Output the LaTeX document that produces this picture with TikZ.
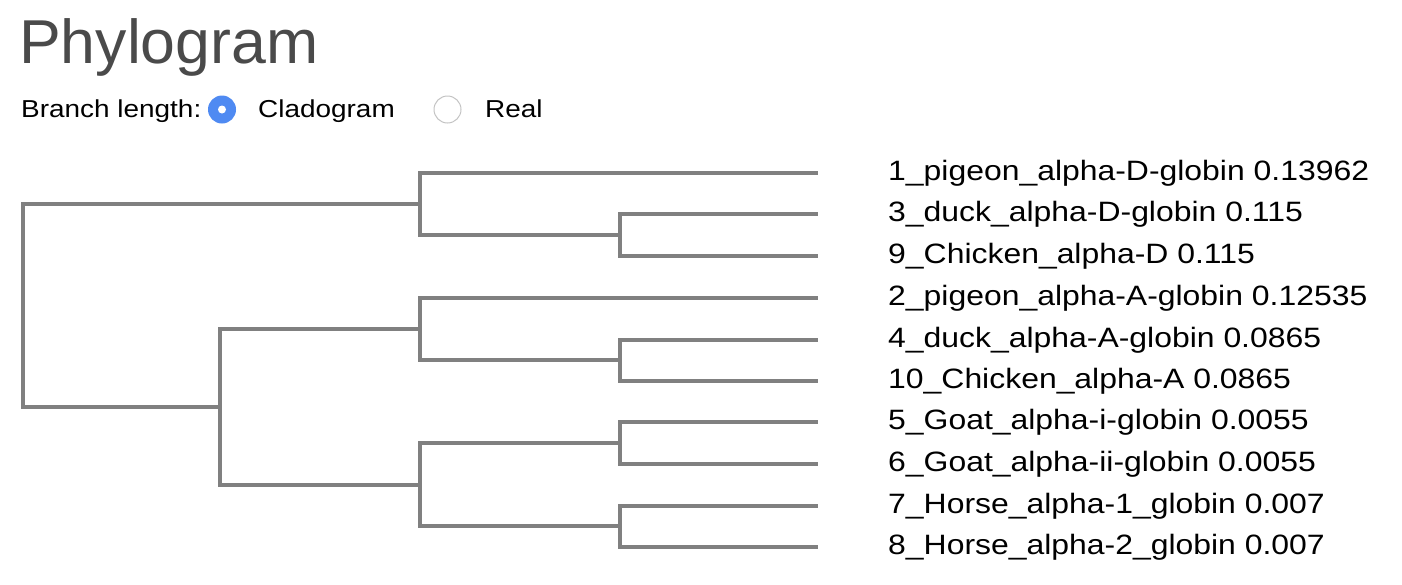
\documentclass[tikz,border=0pt]{standalone}
\usepackage{fontspec}
\setmainfont{Liberation Sans}
\newfontfamily\labelfont[FakeStretch=1.14]{Liberation Sans}
\newfontfamily\ctrlfont[FakeStretch=1.14]{Liberation Sans}
\newfontfamily\titlefont[FakeStretch=1.01]{Liberation Sans}
\definecolor{branch}{HTML}{808080}
\definecolor{titlegray}{HTML}{4A4A4A}
\definecolor{radioblue}{HTML}{4F8AF2}
\definecolor{radiogray}{HTML}{C4C4C4}
\begin{document}
\begin{tikzpicture}[x=1pt,y=-1pt,
  edge/.style={draw=branch,line width=4pt},
  leaflabel/.style={anchor=base west,inner sep=0pt,font=\labelfont\fontsize{28}{30}\selectfont,text=black},
  ctrl/.style={anchor=base west,inner sep=0pt,font=\ctrlfont\fontsize{24.5}{28}\selectfont,text=black}]
\useasboundingbox (0,0) rectangle (1402,584);
% title and controls
\node[anchor=base west,inner sep=0pt,font=\titlefont\fontsize{62}{70}\selectfont,text=titlegray] (title) at (19,63) {Phylogram};
\node[ctrl] (bl) at (21,117) {Branch length:};
\node[circle,fill=radioblue,minimum size=28pt,inner sep=0pt] (r1) at (222,109.5) {};
\node[circle,fill=white,minimum size=8pt,inner sep=0pt] (r1dot) at (r1.center) {};
\node[ctrl] (clado) at (258,117) {Cladogram};
\node[circle,draw=radiogray,line width=1pt,fill=white,minimum size=27pt,inner sep=0pt] (r2) at (447.5,109.5) {};
\node[ctrl] (real) at (485,117) {Real};
% internal nodes
\coordinate (root) at (23,306);
\coordinate (A) at (420,204);
\coordinate (A1) at (620,235);
\coordinate (B) at (220,407);
\coordinate (B1) at (420,329);
\coordinate (B11) at (620,360);
\coordinate (B2) at (420,485);
\coordinate (B21) at (620,443);
\coordinate (B22) at (620,526);
% leaves
\foreach \n/\y in {l1/173,l3/214,l9/256,l2/298,l4/340,l10/381,l5/422,l6/464,l7/506,l8/547}
  \coordinate (\n) at (818,\y);
% edges
\path[edge] (root) |- (A);
\path[edge] (root) |- (B);
\path[edge] (A) |- (l1);
\path[edge] (A) |- (A1);
\path[edge] (A1) |- (l3);
\path[edge] (A1) |- (l9);
\path[edge] (B) |- (B1);
\path[edge] (B) |- (B2);
\path[edge] (B1) |- (l2);
\path[edge] (B1) |- (B11);
\path[edge] (B11) |- (l4);
\path[edge] (B11) |- (l10);
\path[edge] (B2) |- (B21);
\path[edge] (B2) |- (B22);
\path[edge] (B21) |- (l5);
\path[edge] (B21) |- (l6);
\path[edge] (B22) |- (l7);
\path[edge] (B22) |- (l8);
% labels
\node[leaflabel] (t1) at (888,180) {1\_pigeon\_alpha-D-globin 0.13962};
\node[leaflabel] (t3) at (888,221) {3\_duck\_alpha-D-globin 0.115};
\node[leaflabel] (t9) at (888,263) {9\_Chicken\_alpha-D 0.115};
\node[leaflabel] (t2) at (888,305) {2\_pigeon\_alpha-A-globin 0.12535};
\node[leaflabel] (t4) at (888,347) {4\_duck\_alpha-A-globin 0.0865};
\node[leaflabel] (t10) at (888,388) {10\_Chicken\_alpha-A 0.0865};
\node[leaflabel] (t5) at (888,429) {5\_Goat\_alpha-i-globin 0.0055};
\node[leaflabel] (t6) at (888,471) {6\_Goat\_alpha-ii-globin 0.0055};
\node[leaflabel] (t7) at (888,513) {7\_Horse\_alpha-1\_globin 0.007};
\node[leaflabel] (t8) at (888,554) {8\_Horse\_alpha-2\_globin 0.007};
\end{tikzpicture}
\end{document}
